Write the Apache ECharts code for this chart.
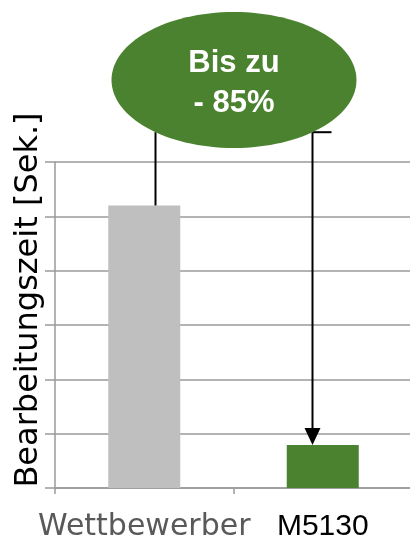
<!DOCTYPE html>
<html><head><meta charset="utf-8">
<script src="https://cdn.jsdelivr.net/npm/echarts@6/dist/echarts.min.js"></script>
<style>html,body{margin:0;padding:0;background:#fff}#c{width:410px;height:539px}</style>
</head><body><div id="c"></div>
<script>
const categories = ['Wettbewerber', 'M5130'];
const values = [5.2, 0.79];
const barColors = ['#bfbfbf', '#4b822f'];
const yMin = 0, yMax = 6, yStep = 1;
const yAxisTitle = 'Bearbeitungszeit [Sek.]';
const calloutText = 'Bis zu\n- 85%';

const chart = echarts.init(document.getElementById('c'), null, {renderer: 'canvas'});
const axisGray = '#9a9a9a';
chart.setOption({
  animation: false,
  grid: {left: 55, right: -2, top: 162, bottom: 51, containLabel: false, outerBoundsMode: 'none'},
  xAxis: {
    type: 'category', data: categories, boundaryGap: true,
    axisLine: {show: true, lineStyle: {color: axisGray, width: 1.5}},
    axisTick: {show: true, length: 6, lineStyle: {color: axisGray, width: 1.5}},
    axisLabel: {
      margin: 24,
      formatter: function (v, i) { return i === 0 ? '{a|' + v + '}' : '{b|' + v + '}'; },
      rich: {
        a: {fontFamily: 'DejaVu Sans', fontSize: 30, color: '#595959'},
        b: {fontFamily: 'Liberation Sans', fontSize: 30, color: '#000'}
      }
    }
  },
  yAxis: {
    type: 'value', min: yMin, max: yMax, interval: yStep,
    name: yAxisTitle, nameLocation: 'middle', nameGap: 10, nameRotate: 90,
    nameTextStyle: {fontFamily: 'DejaVu Sans', fontSize: 32, color: '#000', padding: [0, 0, 0, 50]},
    axisLine: {show: true, lineStyle: {color: axisGray, width: 1.5}},
    axisTick: {show: true, length: 10, lineStyle: {color: axisGray, width: 1.5}},
    axisLabel: {show: false},
    splitLine: {show: true, lineStyle: {color: axisGray, width: 1.5}}
  },
  series: [{
    type: 'bar', barWidth: 72,
    data: values.map((v, i) => ({value: v, itemStyle: {color: barColors[i]}}))
  }]
});

// callout annotation
const cx = 234, cy = 80, rx = 122.5, ry = 68, off = 78.5;
const edgeY = cy + ry * Math.sqrt(1 - (off / rx) * (off / rx));
const pA = chart.convertToPixel({xAxisIndex: 0, yAxisIndex: 0}, [0, values[0]]);
const pB = chart.convertToPixel({xAxisIndex: 0, yAxisIndex: 0}, [1, values[1]]);
const lx = cx - off, rxp = cx + off;
chart.setOption({
  graphic: [
    {type: 'ellipse', shape: {cx: cx, cy: cy, rx: rx, ry: ry}, style: {fill: '#4b822f'}, z: 10},
    {type: 'text', x: cx, y: cy + 3, z: 11, style: {text: calloutText, fill: '#fff', font: 'bold 31px "Liberation Sans"', align: 'center', verticalAlign: 'middle', lineHeight: 40}},
    {type: 'line', shape: {x1: lx, y1: edgeY, x2: lx, y2: pA[1]}, style: {stroke: '#000', lineWidth: 2}, z: 9},
    {type: 'line', shape: {x1: rxp, y1: edgeY, x2: rxp + 19, y2: edgeY}, style: {stroke: '#000', lineWidth: 2}, z: 9},
    {type: 'line', shape: {x1: rxp, y1: edgeY, x2: rxp, y2: pB[1] - 14}, style: {stroke: '#000', lineWidth: 2}, z: 9},
    {type: 'polygon', shape: {points: [[rxp - 8, pB[1] - 17], [rxp + 8, pB[1] - 17], [rxp, pB[1]]]}, style: {fill: '#000'}, z: 9}
  ]
});
</script></body></html>
